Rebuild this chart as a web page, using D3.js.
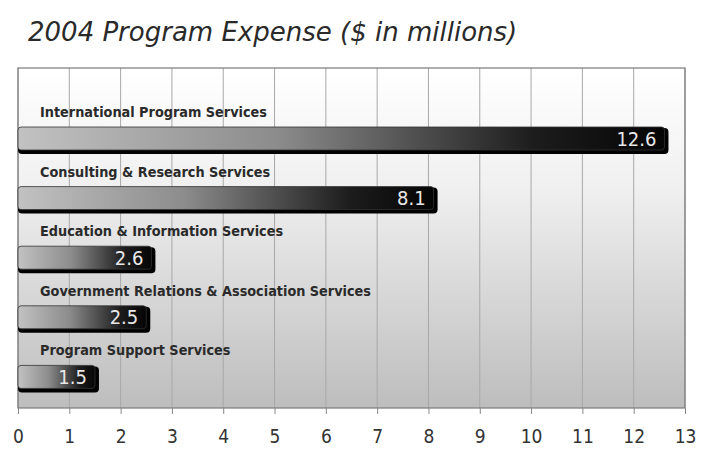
<!DOCTYPE html>
<html>
<head>
<meta charset="utf-8">
<script src="https://cdn.jsdelivr.net/npm/d3@7"></script>
<style>
  body { margin: 0; background: #fff; }
  svg { display: block; }
</style>
</head>
<body>
<svg id="chart"></svg>
<script>
// data
const categories = [
    'International Program Services',
    'Consulting & Research Services',
    'Education & Information Services',
    'Government Relations & Association Services',
    'Program Support Services'
];
const values = [12.6, 8.1, 2.6, 2.5, 1.5];
const tickValues = d3.range(0, 14);
const title = '2004 Program Expense ($ in millions)';

const width = 703, height = 449;
const plot = { left: 18, right: 685, top: 68, bottom: 408 };

const svg = d3.select('#chart')
    .attr('width', width)
    .attr('height', height);

const defs = svg.append('defs');

// background gradient, white to grey
const bg = defs.append('linearGradient')
    .attr('id', 'bg')
    .attr('x1', 0).attr('y1', 0).attr('x2', 0).attr('y2', 1);
bg.append('stop').attr('offset', 0).attr('stop-color', '#ffffff');
bg.append('stop').attr('offset', 0.35).attr('stop-color', '#f0f0f0');
bg.append('stop').attr('offset', 1).attr('stop-color', '#bdbdbd');

// bar gradient, light grey to black
const barGrad = defs.append('linearGradient')
    .attr('id', 'barGrad')
    .attr('x1', 0).attr('y1', 0).attr('x2', 1).attr('y2', 0);
barGrad.append('stop').attr('offset', 0).attr('stop-color', '#c2c2c2');
barGrad.append('stop').attr('offset', 0.4).attr('stop-color', '#8c8c8c');
barGrad.append('stop').attr('offset', 0.8).attr('stop-color', '#1c1c1c');
barGrad.append('stop').attr('offset', 1).attr('stop-color', '#050505');

const x = d3.scaleLinear()
    .domain([0, 13])
    .range([plot.left, plot.right]);

const y = d3.scaleBand()
    .domain(categories)
    .range([97, 395]);

// title
svg.append('text')
    .attr('x', 28)
    .attr('y', 41)
    .attr('font-family', 'DejaVu Sans')
    .attr('font-style', 'italic')
    .attr('font-size', 26)
    .attr('fill', '#2a2a2a')
    .text(title);

// plot background
svg.append('rect')
    .attr('x', plot.left)
    .attr('y', plot.top)
    .attr('width', plot.right - plot.left)
    .attr('height', plot.bottom - plot.top)
    .attr('fill', 'url(#bg)');

// gridlines
svg.append('g')
    .selectAll('line')
    .data(tickValues)
    .join('line')
    .attr('x1', d => x(d)).attr('x2', d => x(d))
    .attr('y1', plot.top).attr('y2', plot.bottom)
    .attr('stroke', '#a8a8a8')
    .attr('stroke-width', 1);

// frame
svg.append('rect')
    .attr('x', plot.left)
    .attr('y', plot.top)
    .attr('width', plot.right - plot.left)
    .attr('height', plot.bottom - plot.top)
    .attr('fill', 'none')
    .attr('stroke', '#7a7a7a')
    .attr('stroke-width', 1.2);

// x axis
const axis = svg.append('g')
    .attr('transform', `translate(0,${plot.bottom})`)
    .call(d3.axisBottom(x).tickValues(tickValues).tickSize(6).tickPadding(16));
axis.select('.domain').remove();
axis.selectAll('.tick line').attr('stroke', '#888');
axis.selectAll('.tick text')
    .attr('font-family', 'DejaVu Sans Condensed')
    .attr('font-size', 19)
    .attr('fill', '#333');

// bars
const barH = 23;
const rows = svg.append('g')
    .selectAll('g')
    .data(categories)
    .join('g')
    .attr('transform', d => `translate(0,${y(d)})`);

rows.append('text')
    .attr('x', 40)
    .attr('y', 20)
    .attr('font-family', 'DejaVu Sans Condensed')
    .attr('font-weight', 'bold')
    .attr('font-size', 14.3)
    .attr('fill', '#2a2a2a')
    .text(d => d);

// shadow
rows.append('rect')
    .attr('x', x(0))
    .attr('y', 31)
    .attr('width', (d, i) => x(values[i]) - x(0) + 4)
    .attr('height', barH + 3)
    .attr('rx', 4)
    .attr('fill', '#000');

rows.append('rect')
    .attr('x', x(0))
    .attr('y', 30)
    .attr('width', (d, i) => x(values[i]) - x(0))
    .attr('height', barH)
    .attr('rx', 3)
    .attr('fill', 'url(#barGrad)')
    .attr('stroke', '#333')
    .attr('stroke-width', 0.8);

rows.append('text')
    .attr('x', (d, i) => x(values[i]) - 8)
    .attr('y', 30 + barH / 2 + 7)
    .attr('text-anchor', 'end')
    .attr('font-family', 'DejaVu Sans Condensed')
    .attr('font-size', 20)
    .attr('fill', '#e8e8e8')
    .text((d, i) => values[i]);
</script>
</body>
</html>
